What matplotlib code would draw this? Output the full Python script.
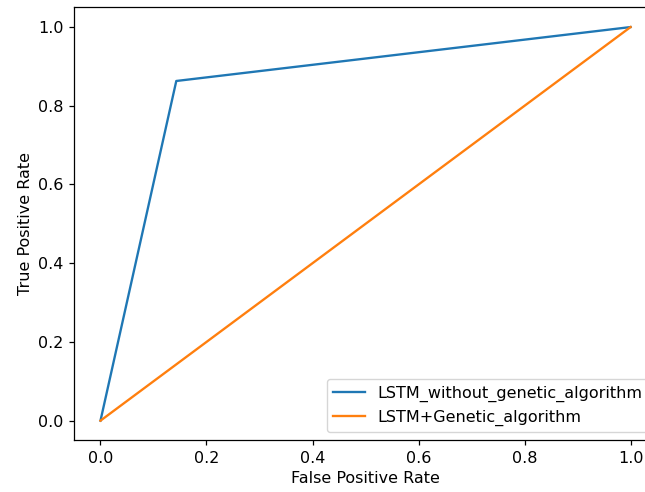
import matplotlib
matplotlib.use('Agg')
import matplotlib.pyplot as plt

# ROC points
fpr_lstm = [0.0, 0.143, 1.0]
tpr_lstm = [0.0, 0.863, 1.0]
fpr_ga = [0.0, 1.0]
tpr_ga = [0.0, 1.0]

s = 1.12  # reference looks rendered a bit larger than default
plt.rcParams['font.size'] = 11.5
plt.rcParams['lines.linewidth'] = 1.5 * s
plt.rcParams['axes.linewidth'] = 0.8 * s
plt.rcParams['xtick.major.size'] = 3.5 * s
plt.rcParams['ytick.major.size'] = 3.5 * s
plt.rcParams['xtick.major.width'] = 0.8 * s
plt.rcParams['ytick.major.width'] = 0.8 * s

fig = plt.figure(figsize=(6.45, 4.92), dpi=100)
# axes runs past the right edge, as in the cropped reference
ax = fig.add_axes([0.1147, 0.105, 0.904, 0.880])

ax.plot(fpr_lstm, tpr_lstm, label='LSTM_without_genetic_algorithm')
ax.plot(fpr_ga, tpr_ga, label='LSTM+Genetic_algorithm')
ax.set_xlabel('False Positive Rate')
ax.set_ylabel('True Positive Rate')
ax.legend(loc='lower right')

fig.savefig('out.png', dpi=100)
